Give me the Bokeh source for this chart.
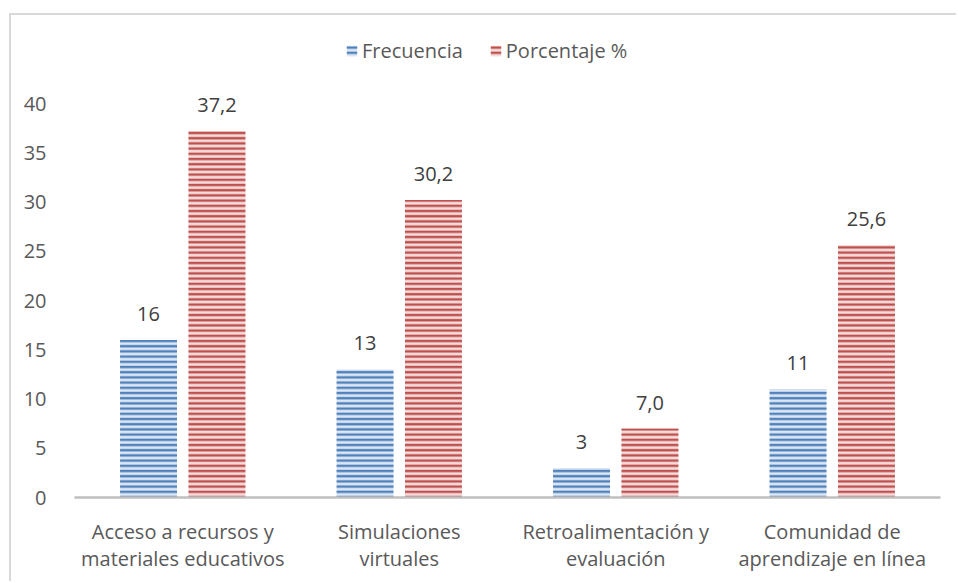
from bokeh.plotting import figure
from bokeh.models import (ColumnDataSource, FactorRange, Range1d, FixedTicker, LabelSet,
                          Legend, LegendItem)
from bokeh.core.properties import value
from bokeh.transform import dodge
from bokeh.embed import file_html
from bokeh.resources import INLINE

categories = ["Acceso a recursos y\nmateriales educativos",
              "Simulaciones\nvirtuales",
              "Retroalimentación y\nevaluación",
              "Comunidad de\naprendizaje en línea"]
frecuencia = [16, 13, 3, 11]
porcentaje = [37.2, 30.2, 7.0, 25.6]
series_names = ["Frecuencia", "Porcentaje %"]
y_ticks = [0, 5, 10, 15, 20, 25, 30, 35, 40]

FONT = "Open Sans"
FS = "20px"

src = ColumnDataSource(dict(
    cat=categories,
    freq=frecuencia,
    pct=porcentaje,
    freq_lbl=[str(v) for v in frecuencia],
    pct_lbl=[f"{v:.1f}".replace(".", ",") for v in porcentaje],
))

# frame from page y=20 to y=497 ; 40 units = 394 px
p = figure(x_range=FactorRange(*categories), y_range=Range1d(0, 48.43),
           width=947, height=568, output_backend="svg", toolbar_location=None,
           min_border_left=63, min_border_right=18, min_border_top=5, min_border_bottom=86,
           margin=(0, 0, 0, 9),
           styles={"border-left": "2px solid #d9d9d9", "border-top": "2px solid #d9d9d9",
                   "margin-top": "13px"})

bw = 0.263
off = 0.158
r1 = p.vbar(x=dodge("cat", -off, range=p.x_range), top="freq", width=bw, source=src,
            fill_color="#DCE6F2", line_color=None,
            hatch_pattern="horizontal_line", hatch_color="#4F81BD", hatch_scale=5.2, hatch_weight=2.4)
r2 = p.vbar(x=dodge("cat", off, range=p.x_range), top="pct", width=bw, source=src,
            fill_color="#F2DCDB", line_color=None,
            hatch_pattern="horizontal_line", hatch_color="#C0504D", hatch_scale=5.2, hatch_weight=2.4)

for col, lbl in (("freq", "freq_lbl"), ("pct", "pct_lbl")):
    d = -off if col == "freq" else off
    ls = LabelSet(x=dodge("cat", d, range=p.x_range), y=col, text=lbl, source=src,
                  text_align="center", text_baseline="bottom", y_offset=19,
                  text_font=value(FONT), text_font_size=FS, text_color="#404040")
    p.add_layout(ls)

p.xgrid.grid_line_color = None
p.ygrid.grid_line_color = None
p.outline_line_color = None

p.yaxis.ticker = FixedTicker(ticks=y_ticks)
p.yaxis.axis_line_color = None
p.yaxis.major_tick_line_color = None
p.yaxis.minor_tick_line_color = None
p.yaxis.major_label_standoff = 22
p.yaxis.major_label_text_font = FONT
p.yaxis.major_label_text_font_size = FS
p.yaxis.major_label_text_color = "#595959"

p.xaxis.axis_line_color = "#BFBFBF"
p.xaxis.axis_line_width = 2.5
p.xaxis.major_tick_line_color = None
p.xaxis.minor_tick_line_color = None
p.xaxis.major_label_standoff = 14
p.xaxis.major_label_text_font = FONT
p.xaxis.major_label_text_font_size = FS
p.xaxis.major_label_text_line_height = 1.0
p.xaxis.major_label_text_color = "#595959"
p.xaxis.major_label_orientation = "horizontal"

legend = Legend(items=[LegendItem(label=series_names[0], renderers=[r1]),
                       LegendItem(label=series_names[1], renderers=[r2])],
                orientation="horizontal", location=(271, 433),
                glyph_width=13, glyph_height=13, spacing=26, label_standoff=4,
                label_text_font=FONT, label_text_font_size=FS, label_text_color="#595959",
                background_fill_alpha=0, border_line_color=None, padding=0, margin=0)
p.add_layout(legend)

open("out.html", "w").write(file_html(p, INLINE))
